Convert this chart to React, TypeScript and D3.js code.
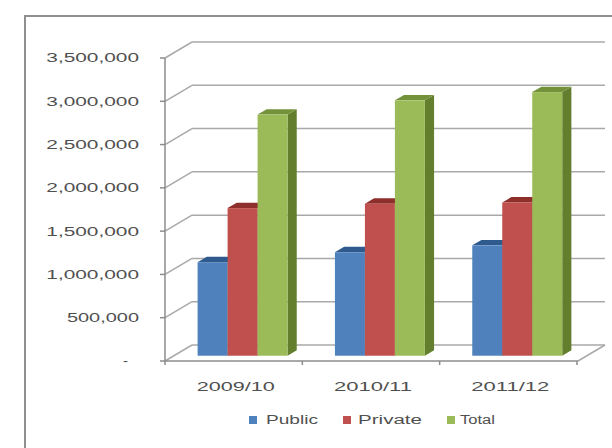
import React from "react";
import * as d3 from "d3";

const categories = ["2009/10", "2010/11", "2011/12"];
const seriesNames = ["Public", "Private", "Total"];
const publicValues = [1080000, 1195000, 1275000];
const privateValues = [1705000, 1755000, 1770000];
const totalValues = [2785000, 2950000, 3045000];
const yTicks = [0, 500000, 1000000, 1500000, 2000000, 2500000, 3000000, 3500000];

const seriesValues = [publicValues, privateValues, totalValues];
const frontColors = ["#4F81BD", "#C0504D", "#9BBB59"];
const topColors = ["#2E5A8E", "#8E2F2C", "#73923A"];
const sideColors = ["#3A6698", "#9A3835", "#637F2E"];

const W = 612;
const H = 448;
const DX = 27;
const DY = -16;
const F0 = 0.33;
const F1 = 0.67;

export default function App() {
  const y = d3.scaleLinear().domain([0, 3500000]).range([361, 58]);
  const x0 = d3.scaleBand<string>().domain(categories).range([165, 577]).paddingInner(0).paddingOuter(0);
  const x1 = d3.scaleBand<string>().domain(seriesNames).range([0, x0.bandwidth()]).paddingInner(0).paddingOuter(0.79);
  const fmt = d3.format(",");
  const grid = "#a9a9a9";
  const axis = "#8c8c8c";
  const textColor = "#505050";
  const font = "'Liberation Sans', Arial, sans-serif";

  const bars: JSX.Element[] = [];
  categories.forEach((c, ci) => {
    seriesNames.forEach((s, si) => {
      const v = seriesValues[si][ci];
      const xl = (x0(c) as number) + (x1(s) as number) + DX * F0;
      const xr = xl + x1.bandwidth();
      const yb = y(0) + DY * F0;
      const yt = y(v) + DY * F0;
      const ddx = DX * (F1 - F0);
      const ddy = DY * (F1 - F0);
      bars.push(
        <g key={`${ci}-${si}`}>
          <polygon points={`${xr},${yb} ${xr + ddx},${yb + ddy} ${xr + ddx},${yt + ddy} ${xr},${yt}`} fill={sideColors[si]} />
          <polygon points={`${xl},${yt} ${xr},${yt} ${xr + ddx},${yt + ddy} ${xl + ddx},${yt + ddy}`} fill={topColors[si]} />
          <rect x={xl} y={yt} width={xr - xl} height={yb - yt} fill={frontColors[si]} />
        </g>
      );
    });
  });

  const legendItems = [
    { name: "Public", sx: 249, tx: 266, tw: 52 },
    { name: "Private", sx: 343, tx: 358, tw: 64 },
    { name: "Total", sx: 447, tx: 460, tw: 35 },
  ];

  return (
    <svg width={W} height={H} style={{ position: "absolute", left: 0, top: 0, background: "#fff" }}>
      <rect x={0} y={0} width={W} height={H} fill="#fff" />
      <rect x={25} y={16} width={620} height={460} fill="#fff" stroke="#8f8f8f" strokeWidth={2} />
      {/* back wall + side wall gridlines */}
      {yTicks.map((t) => (
        <g key={t}>
          <line x1={165} y1={y(t)} x2={165 + DX} y2={y(t) + DY} stroke={grid} strokeWidth={1.5} />
          <line x1={165 + DX} y1={y(t) + DY} x2={605} y2={y(t) + DY} stroke={grid} strokeWidth={1.5} />
        </g>
      ))}
      {/* floor */}
      <line x1={165} y1={y(0)} x2={578} y2={y(0)} stroke={axis} strokeWidth={1.5} />
      <line x1={578} y1={y(0)} x2={578 + DX} y2={y(0) + DY} stroke={grid} strokeWidth={1.5} />
      {/* y axis */}
      <line x1={165} y1={y(3500000)} x2={165} y2={y(0)} stroke={axis} strokeWidth={1.5} />
      {yTicks.map((t) => (
        <line key={"tk" + t} x1={160} y1={y(t)} x2={165} y2={y(t)} stroke={axis} strokeWidth={1.5} />
      ))}
      {[0, 1, 2, 3].map((i) => {
        const xx = 165 + i * x0.bandwidth();
        return <line key={"ct" + i} x1={xx} y1={y(0)} x2={xx} y2={y(0) + 4} stroke={axis} strokeWidth={1.5} />;
      })}
      {bars}
      {/* y labels */}
      {yTicks.map((t) => {
        const label = t === 0 ? "-" : fmt(t);
        const len = t === 0 ? 5 : label.length * 10.3;
        return (
          <text key={"yl" + t} x={t === 0 ? 128 : 139} y={y(t)} dy="0.35em" textAnchor="end" fontFamily={font} fontSize={12.5}
            fill={textColor} textLength={len} lengthAdjust="spacingAndGlyphs">
            {label}
          </text>
        );
      })}
      {/* category labels */}
      {categories.map((c) => (
        <text key={c} x={(x0(c) as number) + x0.bandwidth() / 2 + 2} y={387} dy="0.35em" textAnchor="middle" fontFamily={font}
          fontSize={12.5} fill={textColor} textLength={78} lengthAdjust="spacingAndGlyphs">
          {c}
        </text>
      ))}
      {/* legend */}
      {legendItems.map((l, i) => (
        <g key={l.name}>
          <rect x={l.sx} y={416} width={8} height={8} fill={frontColors[i]} />
          <text x={l.tx} y={420} dy="0.35em" fontFamily={font} fontSize={12.5} fill={textColor} textLength={l.tw}
            lengthAdjust="spacingAndGlyphs">
            {l.name}
          </text>
        </g>
      ))}
    </svg>
  );
}
